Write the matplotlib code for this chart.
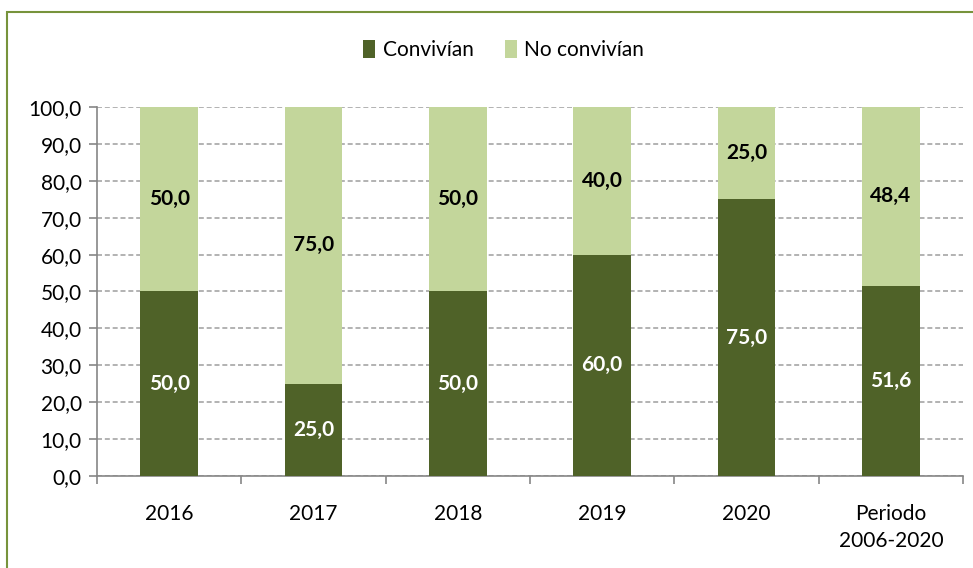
import matplotlib
matplotlib.use("Agg")
import matplotlib.pyplot as plt
from matplotlib.patches import Rectangle

plt.rcParams['font.family'] = ['Lato', 'DejaVu Sans']

categories = ['2016', '2017', '2018', '2019', '2020', 'Periodo\n2006-2020']
convivian = [50.0, 25.0, 50.0, 60.0, 75.0, 51.6]
no_convivian = [50.0, 75.0, 50.0, 40.0, 25.0, 48.4]
yticks = [0, 10, 20, 30, 40, 50, 60, 70, 80, 90, 100]

dark = '#4F6228'
light = '#C3D69B'
fs = 15

fig = plt.figure(figsize=(9.73, 5.68), dpi=100)
ax = fig.add_axes([0.0997, 0.162, 0.8900, 0.6496])

x = list(range(len(categories)))
b1 = ax.bar(x, convivian, width=0.40, color=dark, label='Convivían', zorder=3)
b2 = ax.bar(x, no_convivian, width=0.40, bottom=convivian, color=light,
            label='No convivían', zorder=3)

for i in x:
    ax.text(i, convivian[i] / 2, f'{convivian[i]:.1f}'.replace('.', ','),
            ha='center', va='center', color='white', fontsize=fs,
            fontweight='bold', zorder=4)
    ax.text(i, convivian[i] + no_convivian[i] / 2,
            f'{no_convivian[i]:.1f}'.replace('.', ','),
            ha='center', va='center', color='black', fontsize=fs,
            fontweight='bold', zorder=4)

ax.set_xlim(-0.5, len(categories) - 0.5)
ax.set_ylim(0, 100)
ax.set_yticks(yticks)
ax.set_yticklabels([f'{v:.1f}'.replace('.', ',') for v in yticks], fontsize=fs)
ax.set_xticks(x)
ax.set_xticklabels(categories, fontsize=fs, linespacing=1.45)
ax.tick_params(axis='x', length=0, pad=20)
ax.set_xticks([i - 0.5 for i in range(len(categories) + 1)], minor=True)
ax.tick_params(axis='x', which='minor', length=6, color='#868686', width=1.2)
ax.tick_params(axis='y', length=6, color='#868686', width=1.2, pad=5)

ax.grid(axis='y', color='#A6A6A6', linestyle=(0, (3, 1.7)), linewidth=1.2, zorder=0)
for s in ['top', 'right']:
    ax.spines[s].set_visible(False)
for s in ['left', 'bottom']:
    ax.spines[s].set_color('#868686')
    ax.spines[s].set_linewidth(1.2)

fig.legend(handles=[b1, b2], loc='center', bbox_to_anchor=(0.5175, 0.912), ncol=2,
           frameon=False, fontsize=fs, handlelength=0.6, handleheight=1.0,
           handletextpad=0.35, columnspacing=1.5)

fig.patches.append(Rectangle((7 / 973, -0.05), 1.05, (568 - 12) / 568 + 0.05,
                             transform=fig.transFigure, fill=False,
                             edgecolor='#77933C', linewidth=1.5))

fig.savefig('out.png', dpi=100)
